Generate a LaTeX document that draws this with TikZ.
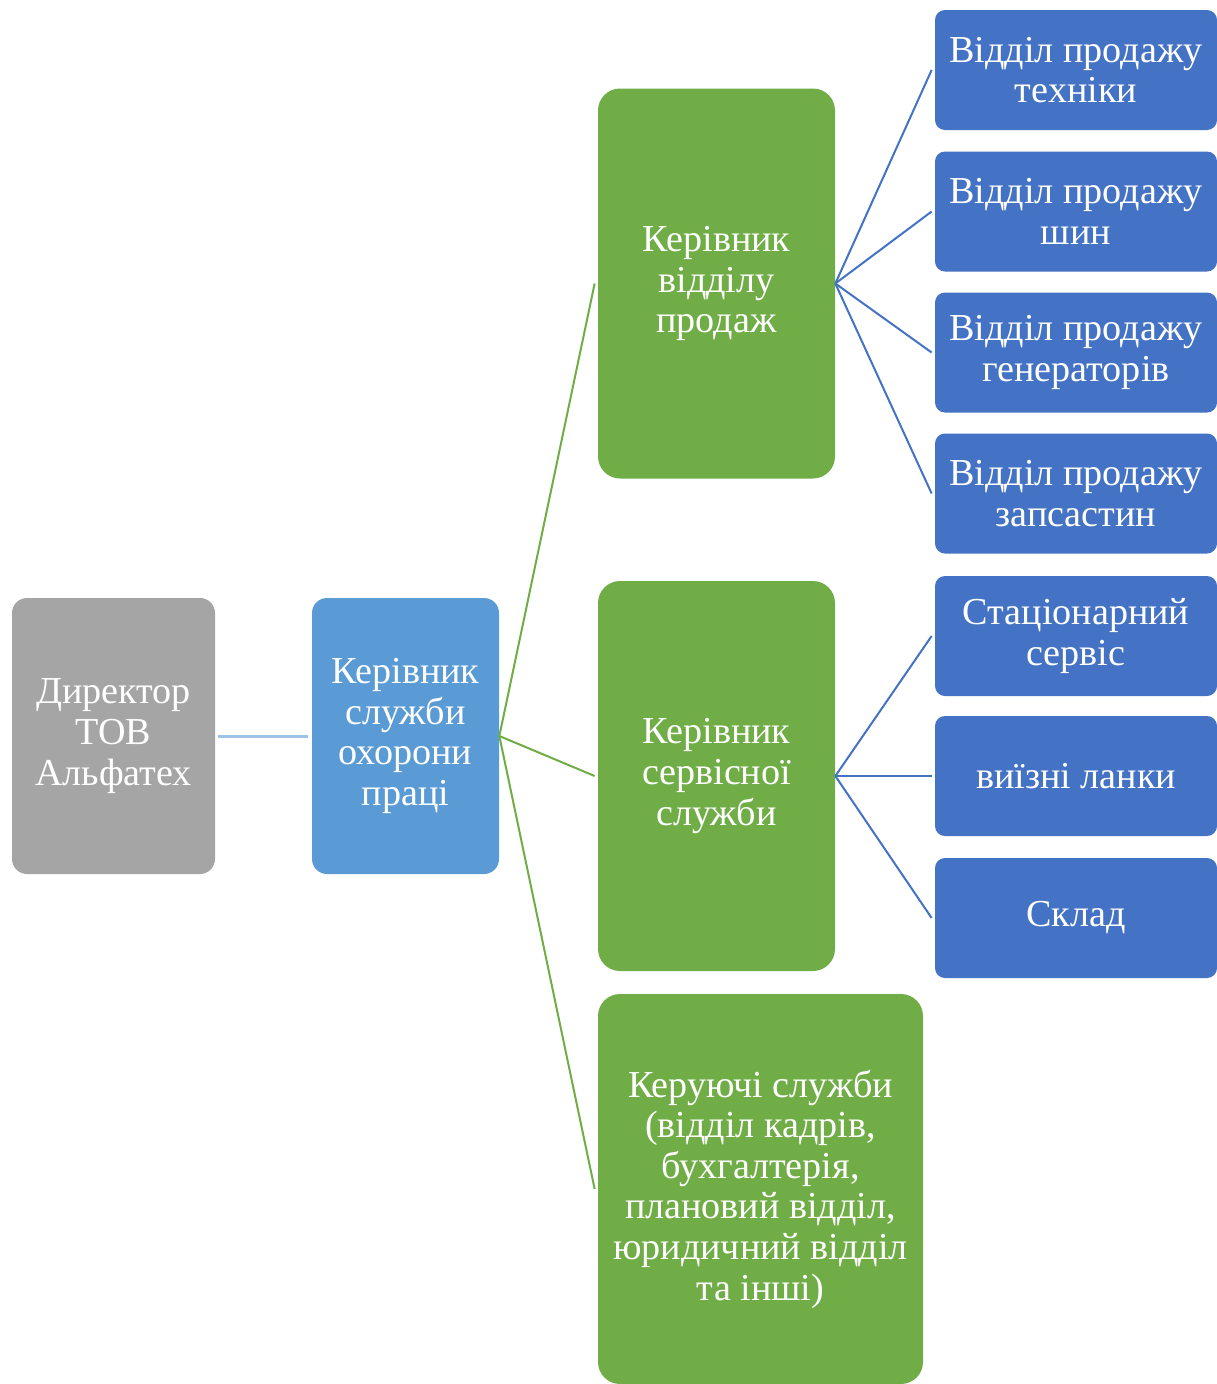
\documentclass[tikz,border=0pt]{standalone}
\usepackage{fontspec}
\setmainfont{Liberation Serif}
\newlength{\du}
\setlength{\du}{0.02cm}
\definecolor{diagray}{RGB}{165,165,165}
\definecolor{diablue}{RGB}{91,155,213}
\definecolor{dialightblue}{RGB}{157,195,230}
\definecolor{diagreen}{RGB}{112,173,71}
\definecolor{diadarkblue}{RGB}{68,114,196}

\begin{document}
\begin{tikzpicture}[
  box/.style={rectangle, inner sep=0pt, align=center, text=white,
    font=\fontsize{21.7pt}{23.1pt}\selectfont},
  topbox/.style={box, fill=diagray, rounded corners=15\du,
    minimum width=203\du, minimum height=276\du},
  headbox/.style={box, fill=diablue, rounded corners=15\du,
    minimum width=187\du, minimum height=276\du},
  deptbox/.style={box, fill=diagreen, rounded corners=22\du,
    minimum width=237\du, minimum height=390\du},
  unitbox/.style={box, fill=diadarkblue, rounded corners=10\du,
    minimum width=282\du, minimum height=120\du},
  toplink/.style={draw=dialightblue, line width=3\du},
  deptlink/.style={draw=diagreen, line width=2\du},
  unitlink/.style={draw=diadarkblue, line width=2\du}
]
\pgftransformxscale{1.000000}
\pgftransformyscale{-1.000000}
\useasboundingbox (0\du,0\du) rectangle (1217\du,1384\du);

% first levels
\node[topbox] (dir) at (113.5\du,736\du) {Директор\\ТОВ\\Альфатех};
\node[headbox] (ohor) at (405.5\du,736\du) {Керівник\\служби\\охорони\\праці};
\node[deptbox] (prod) at (716.5\du,283.5\du) {Керівник\\відділу\\продаж};
\node[deptbox] (serv) at (716.5\du,776\du) {Керівник\\сервісної\\служби};
\node[deptbox, minimum width=325\du] (keru) at (760.5\du,1189\du) {Керуючі служби\\(відділ кадрів,\\бухгалтерія,\\плановий відділ,\\юридичний відділ\\та інші)};

% units
\node[unitbox] (tekh) at (1076\du,70\du) {Відділ продажу\\техніки};
\node[unitbox] (shyn) at (1076\du,211.5\du) {Відділ продажу\\шин};
\node[unitbox] (gen) at (1076\du,352.5\du) {Відділ продажу\\генераторів};
\node[unitbox] (zap) at (1076\du,493.5\du) {Відділ продажу\\запсастин};
\node[unitbox] (stac) at (1076\du,636\du) {Стаціонарний\\сервіс};
\node[unitbox] (vyiz) at (1076\du,776\du) {виїзні ланки};
\node[unitbox] (sklad) at (1076\du,918\du) {Склад};

% links
\draw[toplink] ([xshift=3\du]dir.east) -- ([xshift=-4\du]ohor.west);
\foreach \d in {prod,serv,keru}
  \draw[deptlink] (ohor.east) -- ([xshift=-3\du]\d.west);
\foreach \u in {tekh,shyn,gen,zap}
  \draw[unitlink] (prod.east) -- ([xshift=-3\du]\u.west);
\foreach \u in {stac,vyiz,sklad}
  \draw[unitlink] (serv.east) -- ([xshift=-3\du]\u.west);
\end{tikzpicture}
\end{document}
